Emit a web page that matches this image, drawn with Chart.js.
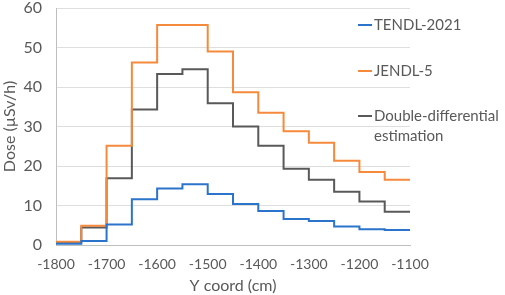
<!DOCTYPE html>
<html>
<head>
<meta charset="utf-8">
<script src="https://cdn.jsdelivr.net/npm/chart.js@4.4.0/dist/chart.umd.min.js"></script>
<style>
    html, body { margin: 0; padding: 0; background: #fff; }
</style>
</head>
<body>
<canvas id="doseChart" width="505" height="295"></canvas>
<script>
    // bin edges along Y (cm); last value repeated so the final step reaches -1100
    const yCoord = [-1800, -1750, -1700, -1650, -1600, -1550, -1500, -1450, -1400, -1350, -1300, -1250, -1200, -1150, -1100];
    const tendl2021 = [0.3, 1.0, 5.2, 11.6, 14.3, 15.4, 12.9, 10.4, 8.6, 6.6, 6.1, 4.7, 4.0, 3.8, 3.8];
    const jendl5 = [0.8, 4.9, 25.1, 46.2, 55.7, 55.7, 49.0, 38.7, 33.5, 28.8, 25.9, 21.3, 18.5, 16.5, 16.5];
    const doubleDiff = [0.7, 4.4, 16.9, 34.3, 43.3, 44.5, 35.9, 30.0, 25.1, 19.3, 16.5, 13.5, 11.0, 8.4, 8.4];
    const seriesNames = ['TENDL-2021', 'JENDL-5', 'Double-differential estimation'];
    const legendLines = [['TENDL-2021'], ['JENDL-5'], ['Double-differential', 'estimation']];
    const xTicks = [-1800, -1700, -1600, -1500, -1400, -1300, -1200, -1100];
    const yTicks = [0, 10, 20, 30, 40, 50, 60];

    const FONT = 'Lato, "Open Sans", sans-serif';
    const TEXT = '#595959';

    function points(values) {
        return yCoord.map(function (x, i) { return { x: x, y: values[i] }; });
    }

    // keep the plot area where the spreadsheet put it
    function noPad(scale) {
        scale.paddingTop = 0;
        scale.paddingBottom = 0;
        scale.paddingLeft = 0;
        scale.paddingRight = 0;
    }

    // side legend like the spreadsheet one
    const sideLegend = {
        id: 'sideLegend',
        afterDraw: function (chart) {
            const ctx = chart.ctx;
            const rows = [25, 71, 116];
            ctx.save();
            ctx.font = '15px ' + FONT;
            ctx.textBaseline = 'middle';
            chart.data.datasets.forEach(function (ds, i) {
                const y = rows[i];
                ctx.strokeStyle = ds.borderColor;
                ctx.lineWidth = 2;
                ctx.beginPath();
                ctx.moveTo(358, y);
                ctx.lineTo(372, y);
                ctx.stroke();
                ctx.fillStyle = TEXT;
                legendLines[i].forEach(function (line, j) {
                    ctx.fillText(line, 374, y + j * 20);
                });
            });
            ctx.restore();
        }
    };

    new Chart(document.getElementById('doseChart'), {
        type: 'line',
        data: {
            datasets: [{
                label: seriesNames[0],
                borderColor: '#2a74cc',
                data: points(tendl2021)
            }, {
                label: seriesNames[1],
                borderColor: '#f58a3c',
                data: points(jendl5)
            }, {
                label: seriesNames[2],
                borderColor: '#595959',
                data: points(doubleDiff)
            }]
        },
        options: {
            responsive: false,
            animation: false,
            layout: { padding: { top: 8, right: 95, left: 0, bottom: 0 } },
            elements: {
                line: { stepped: 'before', borderWidth: 2, fill: false, tension: 0 },
                point: { radius: 0 }
            },
            plugins: {
                legend: { display: false },
                tooltip: { enabled: false }
            },
            scales: {
                x: {
                    type: 'linear',
                    min: -1800,
                    max: -1100,
                    afterBuildTicks: function (scale) {
                        scale.ticks = xTicks.map(function (v) { return { value: v }; });
                    },
                    afterFit: function (scale) { scale.height = 50; noPad(scale); },
                    grid: { display: false },
                    border: { display: true, color: '#bfbfbf', width: 1 },
                    ticks: {
                        color: TEXT, font: { family: FONT, size: 14 }, padding: 3, maxRotation: 0,
                        callback: function (v) { return String(v); }
                    },
                    title: { display: true, text: 'Y coord (cm)', color: TEXT, font: { family: FONT, size: 16 }, padding: { top: 2, bottom: 0 } }
                },
                y: {
                    min: 0,
                    max: 60,
                    afterBuildTicks: function (scale) {
                        scale.ticks = yTicks.map(function (v) { return { value: v }; });
                    },
                    afterFit: function (scale) { scale.width = 56; noPad(scale); },
                    grid: { color: '#dedede', lineWidth: 1, drawTicks: false },
                    border: { display: true, color: '#bfbfbf', width: 1 },
                    ticks: { color: TEXT, font: { family: FONT, size: 16 }, padding: 14 },
                    title: { display: true, text: 'Dose (µSv/h)', color: TEXT, font: { family: FONT, size: 16 }, padding: 0 }
                }
            }
        },
        plugins: [sideLegend]
    });
</script>
</body>
</html>
